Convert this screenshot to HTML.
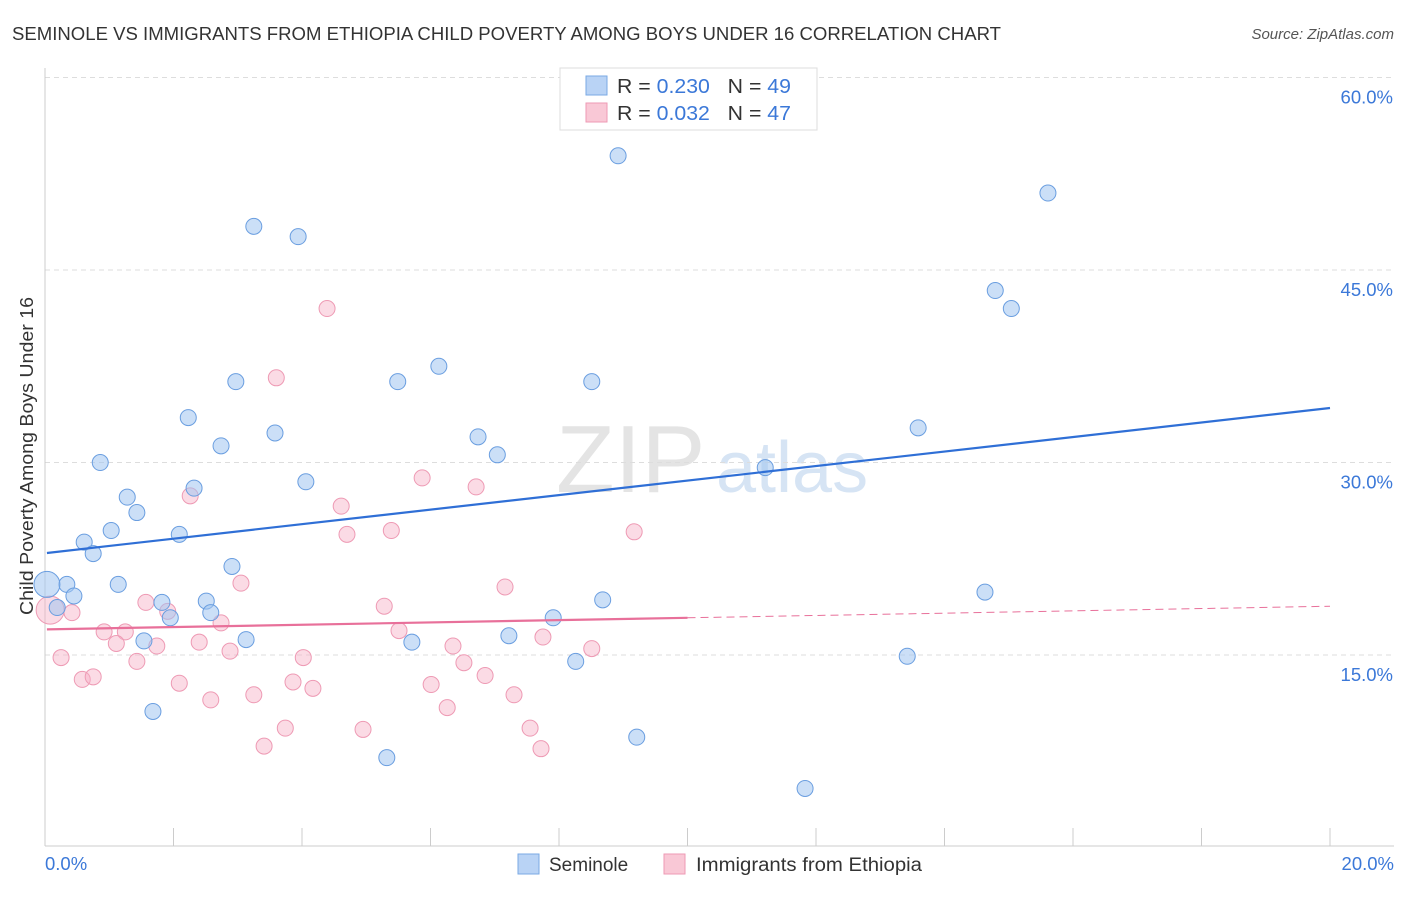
<!DOCTYPE html>
<html><head><meta charset="utf-8"><style>
body{margin:0;background:#fff;font-family:"Liberation Sans",sans-serif}
svg text{font-family:"Liberation Sans",sans-serif}
</style></head><body>
<svg id="c" width="1406" height="892">
<text x="12" y="40" font-size="18" fill="#333" textLength="989" lengthAdjust="spacingAndGlyphs">SEMINOLE VS IMMIGRANTS FROM ETHIOPIA CHILD POVERTY AMONG BOYS UNDER 16 CORRELATION CHART</text>
<text x="1394" y="39" font-size="15" fill="#555" font-style="italic" text-anchor="end">Source: ZipAtlas.com</text>
<text x="556" y="492" font-size="96" fill="#e4e4e4" font-family="Liberation Serif">ZIP</text>
<text x="716" y="492" font-size="72" fill="#d6e4f4">atlas</text>
<text transform="translate(33,456) rotate(-90)" font-size="18" fill="#333" text-anchor="middle" textLength="318" lengthAdjust="spacingAndGlyphs">Child Poverty Among Boys Under 16</text>
<g id="grid"></g><g id="pts"></g><g id="lines"></g>
<g>
<rect x="560" y="68" width="257" height="62" fill="#fff" stroke="#ddd"/>
<rect x="586" y="76" width="21" height="19" fill="#b9d3f5" stroke="#7aa9e4"/>
<rect x="586" y="103" width="21" height="19" fill="#f9c8d6" stroke="#ee9ab4"/>
<text x="617" y="93" font-size="20.5" fill="#333" textLength="174" lengthAdjust="spacingAndGlyphs">R = <tspan fill="#3b78d8">0.230</tspan>&#160;&#160;&#160;N = <tspan fill="#3b78d8">49</tspan></text>
<text x="617" y="120" font-size="20.5" fill="#333" textLength="174" lengthAdjust="spacingAndGlyphs">R = <tspan fill="#3b78d8">0.032</tspan>&#160;&#160;&#160;N = <tspan fill="#3b78d8">47</tspan></text>
</g>
<g>
<rect x="518" y="854" width="21" height="20" fill="#b9d3f5" stroke="#7aa9e4"/>
<text x="549" y="871" font-size="19" fill="#333">Seminole</text>
<rect x="664" y="854" width="21" height="20" fill="#f9c8d6" stroke="#ee9ab4"/>
<text x="696" y="871" font-size="19" fill="#333" textLength="226" lengthAdjust="spacingAndGlyphs">Immigrants from Ethiopia</text>
</g>
</svg>
<script>
const blueX=[8.92,15.61,3.25,3.94,14.79,15.04,6.13,2.97,5.49,8.51,2.23,13.59,3.58,6.74,2.74,7.04,0.86,11.21,4.06,2.32,1.28,1.43,1.03,2.09,0.61,0.75,2.91,0.34,1.14,0.03,0.45,14.63,2.51,8.68,1.82,0.19,2.58,1.95,7.91,1.54,3.13,5.71,7.22,8.26,13.42,1.68,9.21,5.32,11.83];
const blueY=[53.9,51.0,48.4,47.6,43.4,42.0,37.5,36.3,36.3,36.3,33.5,32.7,32.3,32.0,31.3,30.6,30.0,29.6,28.5,28.0,27.3,26.1,24.7,24.4,23.8,22.9,21.9,20.5,20.5,20.5,19.6,19.9,19.2,19.3,19.1,18.7,18.3,17.9,17.9,16.1,16.2,16.0,16.5,14.5,14.9,10.6,8.6,7.0,4.6];
const pinkX=[4.39,3.60,5.87,6.71,2.26,4.61,5.39,4.70,9.17,3.05,7.16,1.57,5.28,1.91,0.42,2.74,5.51,0.92,1.25,7.75,1.74,2.40,6.35,1.11,8.51,2.88,4.02,6.52,1.43,0.25,6.85,0.58,0.75,3.86,2.09,4.17,3.25,7.30,2.58,6.01,6.26,4.95,3.74,7.55,3.41,7.72,0.08];
const pinkY=[42.0,36.6,28.8,28.1,27.4,26.6,24.7,24.4,24.6,20.6,20.3,19.1,18.8,18.4,18.3,17.5,16.9,16.8,16.8,16.4,15.7,16.0,15.7,15.9,15.5,15.3,14.8,14.4,14.5,14.8,13.4,13.1,13.3,12.9,12.8,12.4,11.9,11.9,11.5,12.7,10.9,9.2,9.3,9.3,7.9,7.7,18.5];
const yTicks=[15,30,45,60];
const blueTrend=[22.95,34.25];
const pinkTrend=[17.0,17.9,18.8];
const X=v=>45+v*64.25, Y=v=>847.5-v*12.833;
const NS="http://www.w3.org/2000/svg";
function mk(t,a,p){const e=document.createElementNS(NS,t);for(const k in a)e.setAttribute(k,a[k]);p.appendChild(e);return e;}
const g=document.getElementById('grid');
yTicks.forEach(t=>{
 const l=mk('line',{x1:45,x2:1394,y1:Y(t),y2:Y(t),stroke:'#ddd','stroke-dasharray':'5,4'},g);
 
 
 const tx=mk('text',{x:1393,y:Y(t)+26,'font-size':18.5,fill:'#3b78d8','text-anchor':'end'},g);tx.textContent=t.toFixed(1)+'%';
 
 
});
mk('line',{x1:45,x2:45,y1:68,y2:846,stroke:'#ccc'},g);
mk('line',{x1:45,x2:1394,y1:846,y2:846,stroke:'#ccc'},g);
for(let i=0;i<=10;i++){mk('line',{x1:X(i*2),x2:X(i*2),y1:828,y2:846,stroke:'#ccc'},g);}
const x0=mk('text',{x:45,y:870,'font-size':18.5,fill:'#3b78d8'},g);x0.textContent='0.0%';


const x1=mk('text',{x:1394,y:870,'font-size':18.5,fill:'#3b78d8','text-anchor':'end'},g);x1.textContent='20.0%';


const p=document.getElementById('pts');
pinkX.forEach((x,i)=>{const big=i===pinkX.length-1;
 const c=mk('circle',{cx:X(x),cy:Y(pinkY[i]),r:big?14:8,fill:'rgba(246,176,198,0.45)',stroke:'#ee9ab4','stroke-width':1},p);
 
 });
blueX.forEach((x,i)=>{const big=i===29;
 const c=mk('circle',{cx:X(x),cy:Y(blueY[i]),r:big?13:8,fill:'rgba(160,196,240,0.55)',stroke:'#6a9ee0','stroke-width':1},p);
 
 });
const L=document.getElementById('lines');
const bl=mk('line',{x1:X(0.03),y1:Y(blueTrend[0]),x2:X(20),y2:Y(blueTrend[1]),stroke:'#2f6fd6','stroke-width':2.2},L);


const pl=mk('line',{x1:X(0.03),y1:Y(pinkTrend[0]),x2:X(10),y2:Y(pinkTrend[1]),stroke:'#e8709a','stroke-width':2.2},L);


const pd=mk('line',{x1:X(10),y1:Y(pinkTrend[1]),x2:X(20),y2:Y(pinkTrend[2]),stroke:'#e8709a','stroke-width':1,'stroke-dasharray':'8,5'},L);


</script>
</body></html>
